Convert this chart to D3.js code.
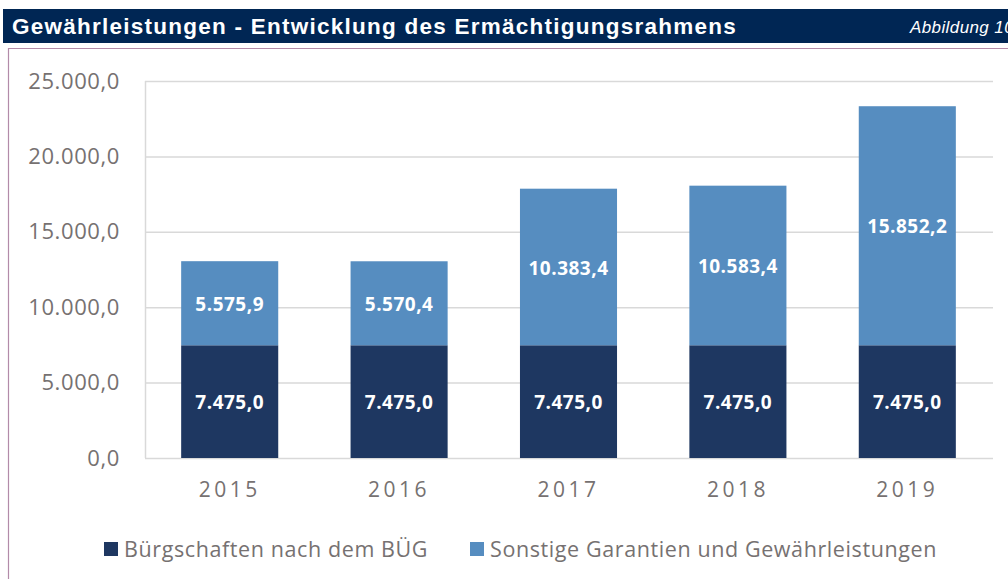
<!DOCTYPE html>
<html>
<head>
<meta charset="utf-8">
<script src="https://cdn.jsdelivr.net/npm/d3@7"></script>
<style>
  body { margin: 0; background: #fff; }
  svg { display: block; }
</style>
</head>
<body>
<svg id="chart" width="1008" height="579"></svg>
<script>
var years = ['2015', '2016', '2017', '2018', '2019'];
var buergschaften = [7475.0, 7475.0, 7475.0, 7475.0, 7475.0];
var sonstige = [5575.9, 5570.4, 10383.4, 10583.4, 15852.2];
var yTicks = [0, 5000, 10000, 15000, 20000, 25000];
var seriesNames = ['Bürgschaften nach dem BÜG', 'Sonstige Garantien und Gewährleistungen'];
var colors = ['#1e3761', '#568dc0'];

var svg = d3.select('#chart');

// Fmt 12.345,6
var fmt = d3.formatLocale({decimal: ',', thousands: '.', grouping: [3], currency: ['', '€']}).format(',.1f');

// header bar
svg.append('rect')
	.attr('x', 3).attr('y', 9)
	.attr('width', 1005).attr('height', 34)
	.attr('fill', '#002654');

svg.append('text')
	.attr('x', 12).attr('y', 34)
	.attr('fill', '#fff')
	.attr('font-family', 'Liberation Sans, Arial, sans-serif')
	.attr('font-weight', 'bold')
	.attr('font-size', 22.5)
	.attr('letter-spacing', '1.25px')
	.text('Gewährleistungen - Entwicklung des Ermächtigungsrahmens');

svg.append('text')
	.attr('x', 910).attr('y', 33)
	.attr('fill', '#fff')
	.attr('font-family', 'Liberation Sans, Arial, sans-serif')
	.attr('font-style', 'italic')
	.attr('font-size', 17)
	.attr('letter-spacing', '0.4px')
	.text('Abbildung 10');

// frame
svg.append('path')
	.attr('d', 'M8.5,579 V48.5 H1008')
	.attr('fill', 'none')
	.attr('stroke', '#b38ba9')
	.attr('stroke-width', 1.2);

var x0 = 145, x1 = 992, yTop = 81, yBase = 458;

var x = d3.scaleBand()
	.domain(years)
	.range([x0, x1])
	.paddingInner(0.427)
	.paddingOuter(0.2135);

var y = d3.scaleLinear()
	.domain([0, 25000])
	.range([yBase, yTop]);

// gridlines
svg.append('g')
	.selectAll('line')
	.data(yTicks)
	.enter()
	.append('line')
	.attr('x1', x0).attr('x2', x1 + 1)
	.attr('y1', d => y(d) + 0.5).attr('y2', d => y(d) + 0.5)
	.attr('stroke', '#d9d9d9')
	.attr('stroke-width', 1.5);

svg.append('line')
	.attr('x1', x0 + 0.5).attr('x2', x0 + 0.5)
	.attr('y1', yTop).attr('y2', yBase)
	.attr('stroke', '#d9d9d9')
	.attr('stroke-width', 1.5);

// y axis
var yAxis = d3.axisLeft(y).tickValues(yTicks).tickFormat(fmt).tickSize(0).tickPadding(25);
var yg = svg.append('g')
	.attr('transform', 'translate(' + x0 + ',0)')
	.call(yAxis);
yg.select('.domain').remove();
yg.selectAll('text')
	.attr('fill', '#767171')
	.attr('font-family', 'Open Sans, sans-serif')
	.attr('font-size', 22)
	.attr('letter-spacing', '0.6px');

// x axis
var xAxis = d3.axisBottom(x).tickSize(0).tickPadding(24);
var xg = svg.append('g')
	.attr('transform', 'translate(0,' + yBase + ')')
	.call(xAxis);
xg.select('.domain').remove();
xg.selectAll('text')
	.attr('fill', '#767171')
	.attr('font-family', 'Open Sans, sans-serif')
	.attr('font-size', 21)
	.attr('letter-spacing', '3.5px');

// stacked bars
var stackData = years.map((yr, i) => ({year: yr, a: buergschaften[i], b: sonstige[i]}));
var stack = d3.stack().keys(['a', 'b'])(stackData);

var layers = svg.append('g')
	.selectAll('g')
	.data(stack)
	.enter()
	.append('g')
	.attr('fill', (d, i) => colors[i]);

layers.selectAll('rect')
	.data(d => d)
	.enter()
	.append('rect')
	.attr('x', d => x(d.data.year))
	.attr('width', x.bandwidth())
	.attr('y', d => y(d[1]))
	.attr('height', d => y(d[0]) - y(d[1]));

layers.selectAll('text')
	.data(d => d)
	.enter()
	.append('text')
	.attr('x', d => x(d.data.year) + x.bandwidth() / 2)
	.attr('y', d => (y(d[0]) + y(d[1])) / 2 + 1)
	.attr('dy', '0.35em')
	.attr('text-anchor', 'middle')
	.attr('fill', '#fff')
	.attr('font-family', 'Open Sans, sans-serif')
	.attr('font-weight', 'bold')
	.attr('font-size', 19)
	.attr('letter-spacing', '0.5px')
	.text(d => fmt(d[1] - d[0]));

// legend
var legendX = [104, 470];
var legend = svg.append('g')
	.selectAll('g')
	.data(seriesNames)
	.enter()
	.append('g')
	.attr('transform', (d, i) => 'translate(' + legendX[i] + ',542)');

legend.append('rect')
	.attr('width', 14).attr('height', 14)
	.attr('fill', (d, i) => colors[i]);

legend.append('text')
	.attr('x', 20).attr('y', 7)
	.attr('dy', '0.35em')
	.attr('fill', '#767171')
	.attr('font-family', 'Open Sans, sans-serif')
	.attr('font-size', 21.5)
	.attr('letter-spacing', '0.6px')
	.text(d => d);
</script>
</body>
</html>
